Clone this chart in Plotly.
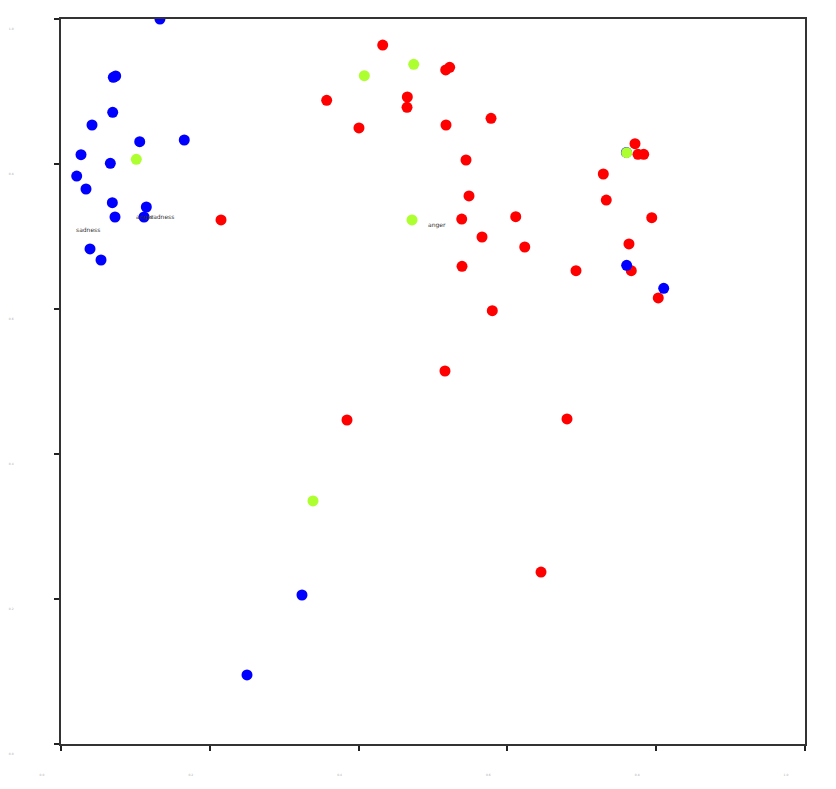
import plotly.graph_objects as go

# -------------------------------------------------------------------
# DATA
# -------------------------------------------------------------------

red_x = [0.4324, 0.5171, 0.5224, 0.3571, 0.4655, 0.4651, 0.4005, 0.5175, 0.5780,
         0.7715, 0.7755, 0.7832, 0.5444, 0.7289, 0.5484, 0.7329, 0.5386, 0.6112,
         0.7940, 0.5659, 0.6233, 0.7634, 0.5390, 0.6922, 0.7665, 0.8028, 0.5797,
         0.5161, 0.3844, 0.6801, 0.6452, 0.2151]
red_y = [0.9641, 0.9297, 0.9334, 0.8879, 0.8924, 0.8782, 0.8497, 0.8538, 0.8630,
         0.8280, 0.8134, 0.8134, 0.8055, 0.7862, 0.7559, 0.7503, 0.7241, 0.7273,
         0.7259, 0.6993, 0.6855, 0.6897, 0.6589, 0.6528, 0.6528, 0.6152, 0.5977,
         0.5145, 0.4469, 0.4483, 0.2372, 0.7228]

blue_x = [0.1330, 0.0703, 0.0735, 0.0695, 0.0417, 0.1058, 0.1657, 0.0269, 0.0663,
          0.0211, 0.0336, 0.0690, 0.1147, 0.0726, 0.1116, 0.0390, 0.0538, 0.7603,
          0.8101, 0.3239, 0.2500, 0.7600]
blue_y = [1.0000, 0.9196, 0.9214, 0.8713, 0.8538, 0.8308, 0.8331, 0.8128, 0.8010,
          0.7834, 0.7655, 0.7466, 0.7407, 0.7269, 0.7269, 0.6828, 0.6676, 0.6603,
          0.6286, 0.2055, 0.0952, 0.8159]

green_x = [0.1012, 0.4077, 0.4741, 0.4718, 0.3387, 0.7603]
green_y = [0.8065, 0.9218, 0.9375, 0.7228, 0.3352, 0.8156]

label_text = ["sadness", "anger", "sadness", "anger"]
label_x = [0.0175, 0.0981, 0.1169, 0.4906]
label_y = [0.7090, 0.7270, 0.7270, 0.7160]

tick_vals = [0.0, 0.2, 0.4, 0.6, 0.8, 1.0]
tick_text = ["0.0", "0.2", "0.4", "0.6", "0.8", "1.0"]


# -------------------------------------------------------------------
# FIGURE
# -------------------------------------------------------------------

fig = go.Figure()

for xs, ys, col in [(red_x, red_y, "#ff0000"),
                    (blue_x, blue_y, "#0000ff"),
                    (green_x, green_y, "#adff2f")]:
    fig.add_trace(go.Scatter(
        x=xs, y=ys, mode="markers",
        marker=dict(color=col, size=11, line=dict(width=0)),
        cliponaxis=True, showlegend=False, hoverinfo="skip"
    ))

for t, x, y in zip(label_text, label_x, label_y):
    fig.add_annotation(
        x=x, y=y, text=t, showarrow=False, xanchor="left", yanchor="middle",
        font=dict(family="DejaVu Sans", size=6, color="#333333")
    )

axis_common = dict(
    range=[0, 1], tickvals=tick_vals, ticktext=tick_text,
    showgrid=False, zeroline=False, automargin=False,
    showline=True, mirror=True, linecolor="#333333", linewidth=1.5,
    ticks="outside", ticklen=5, tickwidth=1.5, tickcolor="#222222",
    tickfont=dict(family="DejaVu Sans", size=3, color="#aaaaaa"),
)

fig.update_xaxes(**axis_common, ticklabelstandoff=22, ticklabelshift=-19)
fig.update_yaxes(**axis_common, ticklabelstandoff=40, ticklabelshift=10)

fig.update_layout(
    width=836, height=789,
    margin=dict(l=53, r=39, t=11, b=53),
    plot_bgcolor="white", paper_bgcolor="white",
)

fig.write_html("out.html")
